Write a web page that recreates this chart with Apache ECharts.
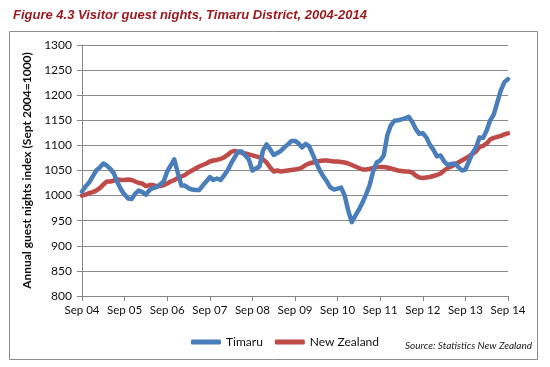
<!DOCTYPE html>
<html><head><meta charset="utf-8">
<script src="https://cdn.jsdelivr.net/npm/echarts@6/dist/echarts.min.js"></script>
<style>html,body{margin:0;padding:0;background:#fff}#c{width:550px;height:367px}</style>
</head><body><div id="c"></div>
<script>
var titleText = 'Figure 4.3 Visitor guest nights, Timaru District, 2004-2014';
var yAxisName = 'Annual guest nights index (Sept 2004=1000)';
var sourceText = 'Source: Statistics New Zealand';
var seriesNames = ['Timaru', 'New Zealand'];
var monthNames = ['Sep','Oct','Nov','Dec','Jan','Feb','Mar','Apr','May','Jun','Jul','Aug'];
var startYear = 2004;
var monthCount = 121;
var yTicks = {min: 800, max: 1300, interval: 50};

var timaru = [
 1008,1018,1026,1038,1050,1056,1064,1060,1053,1044,1026,1012,
 1002,994,993,1004,1010,1007,1002,1011,1015,1017,1022,1028,
 1048,1060,1072,1045,1020,1020,1015,1012,1011,1011,1020,1028,
 1037,1031,1034,1031,1040,1050,1064,1076,1088,1088,1080,1072,
 1050,1054,1058,1090,1102,1092,1081,1085,1089,1096,1102,1109,
 1109,1104,1096,1103,1098,1082,1065,1050,1038,1028,1016,1012,
 1014,1016,1000,970,947,960,972,986,1002,1020,1048,1066,
 1070,1080,1120,1140,1149,1150,1152,1154,1157,1147,1133,1123,
 1124,1116,1101,1091,1078,1080,1068,1061,1063,1064,1057,1050,
 1052,1068,1085,1096,1116,1115,1130,1150,1162,1186,1210,1226,
 1232
];
var newZealand = [
 1000,1002,1005,1007,1010,1015,1022,1028,1028,1030,1032,1031,
 1031,1032,1031,1028,1025,1024,1019,1021,1021,1019,1019,1021,
 1024,1028,1031,1035,1038,1041,1046,1050,1054,1058,1061,1064,
 1068,1070,1071,1073,1076,1081,1087,1089,1087,1085,1084,1082,
 1080,1078,1076,1072,1066,1056,1048,1050,1048,1049,1050,1051,
 1052,1053,1056,1061,1064,1066,1068,1069,1070,1070,1069,1068,
 1068,1067,1066,1064,1061,1058,1055,1052,1052,1053,1055,1057,
 1057,1057,1056,1054,1052,1050,1049,1048,1048,1046,1040,1036,
 1035,1036,1037,1039,1041,1044,1050,1055,1058,1062,1066,1070,
 1074,1078,1083,1088,1097,1099,1104,1112,1115,1117,1119,1122,
 1124
];

var categories = [];
for (var i = 0; i < monthCount; i++) {
  var yr = startYear + Math.floor((i + 8) / 12);
  categories.push(monthNames[i % 12] + ' ' + String(yr).slice(2));
}

var chart = echarts.init(document.getElementById('c'), null, {renderer: 'canvas'});
var font = 'Lato, "Open Sans", sans-serif';
var yearTick = function (idx) { return idx % 12 === 0; };
chart.setOption({
  backgroundColor: '#ffffff',
  animation: false,
  textStyle: {fontFamily: font},
  title: {
    text: titleText, left: 8, top: 4,
    textStyle: {fontFamily: 'Liberation Sans, Arial, sans-serif', fontSize: 13, fontWeight: 'bold', fontStyle: 'italic', color: '#9b1c20'}
  },
  graphic: [
    {type: 'rect', shape: {x: 9.5, y: 31.5, width: 528, height: 328}, style: {fill: 'none', stroke: '#8c8c8c', lineWidth: 1}, silent: true, z: -1},
    {type: 'text', left: 405, top: 341, style: {text: sourceText, font: 'italic 10px ' + font, fill: '#1a1a1a'}}
  ],
  legend: {
    data: seriesNames, left: 186, top: 331, itemGap: 12, itemWidth: 30, itemHeight: 5, icon: 'roundRect',
    textStyle: {fontFamily: font, fontSize: 12, color: '#111'}
  },
  grid: {left: 82, right: 42, top: 45, bottom: 71, containLabel: false},
  xAxis: {
    type: 'category', data: categories, boundaryGap: false,
    axisLine: {lineStyle: {color: '#868686'}},
    axisTick: {show: true, interval: yearTick, length: 5, lineStyle: {color: '#868686'}},
    axisLabel: {interval: yearTick, color: '#111', fontSize: 11.5, fontFamily: font, margin: 8}
  },
  yAxis: {
    type: 'value', min: yTicks.min, max: yTicks.max, interval: yTicks.interval,
    name: yAxisName, nameLocation: 'middle', nameGap: 40,
    nameTextStyle: {fontFamily: font, fontSize: 12, fontWeight: 'bold', color: '#111'},
    axisLine: {show: true, lineStyle: {color: '#868686'}},
    axisTick: {show: true, length: 5, lineStyle: {color: '#868686'}},
    axisLabel: {color: '#111', fontSize: 12, fontFamily: font, margin: 10, formatter: function (v) { return String(v); }},
    splitLine: {lineStyle: {color: '#8a8a8a', width: 1}}
  },
  series: [
    {name: seriesNames[0], type: 'line', data: timaru, showSymbol: false, symbol: 'none',
     lineStyle: {color: '#4a7ebb', width: 4.5, cap: 'round', join: 'round'}, itemStyle: {color: '#4a7ebb'}, z: 3},
    {name: seriesNames[1], type: 'line', data: newZealand, showSymbol: false, symbol: 'none',
     lineStyle: {color: '#be4b48', width: 4.5, cap: 'round', join: 'round'}, itemStyle: {color: '#be4b48'}, z: 2}
  ]
});
</script></body></html>
